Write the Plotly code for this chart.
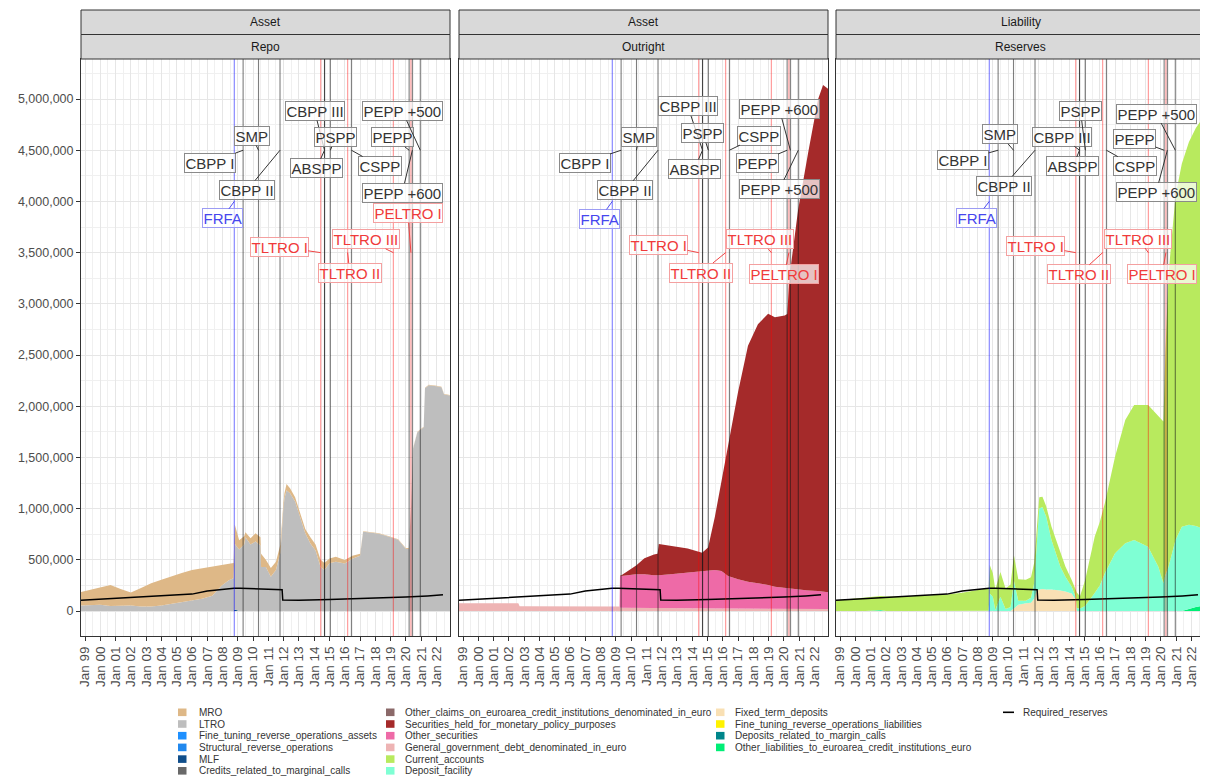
import plotly.graph_objects as go
from plotly.subplots import make_subplots
from datetime import datetime

FONT = "Liberation Sans, Arial, Helvetica, sans-serif"

# ------------------------------------------------------------------ data (EUR millions)
# Repo panel
repo_dates = ["1998-09-27", "1999-06-01", "2000-01-01", "2000-09-01", "2001-05-01", "2002-01-01",
              "2002-09-01", "2003-05-01", "2004-01-01", "2004-09-01", "2005-05-01", "2006-01-01",
              "2006-09-01", "2007-05-01", "2007-12-15", "2008-06-01", "2008-09-20", "2008-10-20",
              "2009-02-01", "2009-06-01", "2009-07-01", "2009-11-01", "2010-03-01", "2010-06-25",
              "2010-07-10", "2010-11-01", "2011-03-01", "2011-07-01", "2011-10-15", "2011-12-25",
              "2012-01-20", "2012-03-10", "2012-06-01", "2012-10-01", "2013-02-01", "2013-06-01",
              "2013-10-01", "2014-02-01", "2014-06-01", "2014-09-01", "2015-01-01", "2015-06-01",
              "2016-01-01", "2016-07-01", "2017-01-01", "2017-03-15", "2017-07-01", "2018-04-01",
              "2019-01-01", "2019-07-01", "2020-01-01", "2020-03-10", "2020-05-01", "2020-06-20",
              "2020-10-01", "2021-01-01", "2021-03-01", "2021-04-01", "2021-07-01", "2022-01-01",
              "2022-05-01", "2022-07-01", "2022-11-20"]
MRO = [130000, 150000, 165000, 205000, 160000, 125000, 180000, 225000, 250000, 270000, 282000, 300000,
       298000, 283000, 200000, 165000, 150000, 190000, 90000, 80000, 50000, 60000, 80000, 80000,
       130000, 70000, 85000, 80000, 80000, 50000, 50000, 60000, 50000, 40000, 50000, 40000,
       60000, 60000, 70000, 70000, 48000, 48000, 33000, 30000, 20000, 5000, 5000, 5000,
       5000, 5000, 7000, 10000, 5000, 5000, 5000, 5000, 5000, 5000, 5000, 5000,
       5000, 5000, 5000]
LTRO = [55000, 60000, 60000, 50000, 55000, 55000, 45000, 45000, 55000, 70000, 90000, 100000,
        120000, 150000, 250000, 300000, 320000, 640000, 600000, 650000, 720000, 650000, 680000, 640000,
        430000, 430000, 335000, 400000, 570000, 1000000, 1100000, 1180000, 1150000, 1070000, 900000, 760000,
        660000, 590000, 430000, 400000, 466000, 482000, 465000, 510000, 540000, 775000, 770000, 755000,
        720000, 695000, 605000, 605000, 995000, 1585000, 1745000, 1780000, 1795000, 2175000, 2205000, 2195000,
        2185000, 2115000, 2105000]
mlf_dates = ["2008-09-20", "2008-10-20", "2009-02-01"]
MLF = [0, 15000, 0]
edge_dates = ["1998-09-27", "2022-11-20"]
Fine_tuning_reverse_operations_assets = [0, 0]
Structural_reverse_operations = [0, 0]
Credits_related_to_marginal_calls = [0, 0]

# Outright panel
out_dates = ["1998-09-27", "2002-08-15", "2002-09-15", "2009-03-31", "2009-04-10", "2009-05-15",
             "2010-05-01", "2010-11-15", "2011-07-01", "2011-09-25", "2011-10-25", "2012-08-01",
             "2013-09-15", "2014-08-25", "2015-01-15", "2015-06-25", "2015-12-01", "2016-05-05",
             "2016-12-31", "2017-08-25", "2018-04-20", "2018-12-20", "2019-05-30", "2020-01-20",
             "2020-03-20", "2020-05-20", "2020-12-05", "2021-08-01", "2022-03-28", "2022-07-25",
             "2022-11-20"]
General_government_debt = [75000, 75000, 47000, 45000, 32000, 32000, 30000, 30000, 30000, 30000, 30000,
                           28000, 27000, 25000, 25000, 25000, 25000, 24000, 23000, 22000, 22000, 21000,
                           21000, 20000, 20000, 20000, 20000, 20000, 20000, 20000, 20000]
Other_securities = [0, 0, 0, 0, 310000, 310000, 328000, 328000, 320000, 320000, 320000, 330000,
                    349000, 365000, 375000, 375000, 365000, 318000, 287000, 263000, 249000, 234000,
                    215000, 205000, 200000, 199000, 195000, 181000, 175000, 168000, 164000]
Securities_held = [0, 0, 0, 0, 3000, 8000, 87000, 158000, 201000, 210000, 305000, 280000,
                   234000, 180000, 220000, 518000, 876000, 1272000, 1829000, 2306000, 2529000, 2649000,
                   2634000, 2662000, 2680000, 3069000, 3701000, 4273000, 4802000, 4949000, 4916000]
Other_claims = [0, 0]

# Reserves panel
res_dates = ["1998-09-27", "2000-01-01", "2000-09-01", "2001-09-01", "2002-01-01", "2003-01-01",
             "2004-01-01", "2005-01-01", "2006-01-01", "2007-01-01", "2008-01-01", "2008-06-01",
             "2008-09-20", "2008-10-20", "2009-01-01", "2009-03-01", "2009-07-01", "2009-11-01",
             "2010-03-01", "2010-05-20", "2010-09-01", "2011-03-01", "2011-07-01", "2011-09-15",
             "2011-11-15", "2012-01-15", "2012-04-01", "2012-07-01", "2012-11-01", "2013-06-01",
             "2013-10-01", "2014-03-01", "2014-06-01", "2014-07-01", "2014-09-15", "2015-01-15",
             "2015-09-01", "2016-01-01", "2016-05-01", "2016-12-31", "2017-09-01", "2018-04-01",
             "2019-03-01", "2019-11-01", "2020-03-01", "2020-04-15", "2020-07-01", "2020-12-15",
             "2021-05-15", "2021-11-01", "2022-04-15", "2022-09-15", "2022-11-20"]
Current_accounts = [105000, 118000, 130000, 137000, 140000, 138000, 142000, 152000, 160000, 178000,
                    205000, 215000, 220000, 280000, 230000, 200000, 240000, 200000, 220000, 250000,
                    210000, 205000, 200000, 200000, 180000, 110000, 100000, 100000, 130000, 130000,
                    100000, 66000, 70000, 150000, 120000, 250000, 550000, 620000, 684000, 944000,
                    1204000, 1319000, 1384000, 1465000, 1580000, 2150000, 2857000, 3363000, 3546000,
                    3737000, 3887000, 3997000, 4040000]
Deposit_facility = [1000, 1000, 1000, 1000, 1000, 1000, 1000, 1000, 1000, 1000, 1000, 1000,
                    3000, 170000, 140000, 10000, 140000, 20000, 40000, 270000, 40000, 25000,
                    50000, 150000, 420000, 790000, 800000, 710000, 485000, 235000, 145000, 67000,
                    30000, 30000, 25000, 50000, 176000, 250000, 368000, 563000, 661000, 693000,
                    628000, 433000, 270000, 350000, 433000, 693000, 823000, 823000, 791000, 759000,
                    760000]
Fixed_term_deposits = [0, 0, 0, 0, 0, 0, 0, 0, 0, 0, 0, 0, 0, 0, 0, 0, 0, 0, 0,
                       25000, 60000, 75000, 80000, 120000, 200000, 210000, 215000, 210000, 210000,
                       200000, 190000, 170000, 110000,
                       0, 0, 0, 0, 0, 0, 0, 0, 0, 0, 0, 0, 0, 0, 0, 0, 0, 0, 0, 0]
Other_liabilities = [0, 0, 0, 8000, 0, 0, 0, 0, 0, 0, 0, 0, 0, 0, 0, 0, 0, 0, 0, 0, 0, 0, 0,
                     0, 0, 0, 0, 0, 0, 0, 0, 0, 0, 0, 0, 0, 0, 0, 0, 0, 0, 0, 0, 0, 0, 0, 0, 0, 0,
                     20000, 40000, 50000, 50000]
Fine_tuning_reverse_operations_liabilities = [0, 0]
Deposits_related_to_margin_calls = [0, 0]

# Required reserves (drawn in every panel)
rr_dates = ["1998-09-27", "2001-01-01", "2003-01-01", "2005-01-01", "2006-01-01", "2007-01-01",
            "2008-01-01", "2008-10-01", "2009-03-01", "2010-06-01", "2011-06-01", "2011-11-25",
            "2011-12-10", "2013-01-01", "2015-01-01", "2017-01-01", "2018-06-01", "2020-01-01",
            "2021-06-01", "2022-06-05"]
Required_reserves = [105000, 124000, 138000, 153000, 165000, 195000, 213000, 222000, 222000, 215000,
                     210000, 207000, 107000, 105000, 112000, 120000, 130000, 136000, 147000, 158000]

# Policy events
event_names = ["FRFA", "CBPP I", "SMP", "CBPP II", "TLTRO I", "CBPP III", "ABSPP", "PSPP",
               "TLTRO II", "CSPP", "TLTRO III", "PEPP", "PELTRO I", "PEPP +600", "PEPP +500"]
event_dates = ["2008-10-08", "2009-05-07", "2010-05-10", "2011-10-06", "2014-06-05", "2014-09-04",
               "2014-09-04", "2015-01-22", "2016-03-10", "2016-06-08", "2019-03-07", "2020-03-18",
               "2020-04-30", "2020-06-04", "2020-12-10"]
event_kinds = ["blue", "black", "black", "black", "red", "black", "black", "black",
               "red", "black", "red", "black", "red", "black", "black"]

panel_strips = [("Asset", "Repo"), ("Asset", "Outright"), ("Liability", "Reserves")]

# ------------------------------------------------------------------ label placement (layout)
POINT_Y = {"black": 4500000, "red": 3500000, "blue": 4000000}
placements = [
    {"FRFA": (2007.97, 3835000), "CBPP I": (2007.17, 4378000), "SMP": (2009.90, 4639000),
     "CBPP II": (2009.61, 4111000), "TLTRO I": (2011.70, 3558000), "CBPP III": (2014.03, 4883000),
     "ABSPP": (2014.14, 4323000), "PSPP": (2015.40, 4626000), "TLTRO II": (2016.32, 3304000),
     "CSPP": (2018.28, 4346000), "TLTRO III": (2017.41, 3630000), "PEPP": (2019.15, 4626000),
     "PELTRO I": (2020.13, 3884000), "PEPP +600": (2019.76, 4085000), "PEPP +500": (2019.76, 4883000)},
    {"FRFA": (2007.94, 3829000), "CBPP I": (2006.96, 4380000), "SMP": (2010.51, 4631000),
     "CBPP II": (2009.62, 4108000), "TLTRO I": (2011.80, 3578000), "CBPP III": (2013.71, 4928000),
     "ABSPP": (2014.14, 4318000), "PSPP": (2014.69, 4666000), "TLTRO II": (2014.59, 3306000),
     "CSPP": (2018.40, 4642000), "TLTRO III": (2018.46, 3630000), "PEPP": (2018.25, 4376000),
     "PELTRO I": (2020.03, 3288000), "PEPP +600": (2019.70, 4903000), "PEPP +500": (2019.70, 4118000)},
    {"FRFA": (2007.94, 3839000), "CBPP I": (2007.05, 4404000), "SMP": (2009.47, 4655000),
     "CBPP II": (2009.73, 4153000), "TLTRO I": (2011.80, 3568000), "CBPP III": (2013.51, 4631000),
     "ABSPP": (2014.24, 4342000), "PSPP": (2014.74, 4882000), "TLTRO II": (2014.63, 3288000),
     "CSPP": (2018.29, 4345000), "TLTRO III": (2018.51, 3637000), "PEPP": (2018.27, 4607000),
     "PELTRO I": (2020.07, 3288000), "PEPP +600": (2019.69, 4091000), "PEPP +500": (2019.69, 4858000)},
]

STYLE = {
    "black": dict(line="rgba(20,20,20,0.55)", text="#333333", border="#8A8A8A", seg="#333333"),
    "red": dict(line="rgba(255,0,0,0.42)", text="#F03A3A", border="#F4A0A0", seg="#F04444"),
    "blue": dict(line="rgba(0,0,255,0.5)", text="#4646EE", border="#9C9CF4", seg="#4E4EF0"),
}

COLORS = {
    "MRO": "#DEB887", "LTRO": "#BEBEBE", "Fine_tuning_reverse_operations_assets": "#1E90FF",
    "Structural_reverse_operations": "#2188EE", "MLF": "#104E8B",
    "Credits_related_to_marginal_calls": "#696969",
    "Other_claims_on_euroarea_credit_institutions_denominated_in_euro": "#8B6969",
    "Securities_held_for_monetary_policy_purposes": "#A52A2A", "Other_securities": "#EE6AA7",
    "General_government_debt_denominated_in_euro": "#EEB4B4", "Current_accounts": "#B8EA5E",
    "Deposit_facility": "#7FFFD4", "Fixed_term_deposits": "#F9E0B4",
    "Fine_tuning_reverse_operations_liabilities": "#FFF200",
    "Deposits_related_to_margin_calls": "#00868B",
    "Other_liabilities_to_euroarea_credit_institutions_euro": "#00EE76",
}

# ------------------------------------------------------------------ geometry
# The page body has an 8px margin, so the figure is drawn 8px smaller and
# all reference pixel positions are expressed relative to the window.
OFF = 8
W, H = 1208 - OFF, 780 - OFF
ML, MT = 81 - OFF, 59 - OFF
MB = H - (636 - OFF)
MR = W - (1205 - OFF)
PW, PH = W - ML - MR, H - MT - MB


def px_x(X):
    return (X - OFF - ML) / PW


def px_y(Y):
    return (H - MB - (Y - OFF)) / PH


def yr2date(v):
    y = int(v)
    a, b = datetime(y, 1, 1), datetime(y + 1, 1, 1)
    return (a + (b - a) * (v - y)).strftime("%Y-%m-%d")


panel_px = [(81, 450), (459, 828), (836, 1205)]
domains = [[px_x(a), px_x(b)] for a, b in panel_px]

fig = make_subplots(rows=1, cols=3, shared_yaxes=True, horizontal_spacing=0.01)


def area(x, y, name, col, group):
    c = COLORS[name]
    fig.add_trace(go.Scatter(x=x, y=y, name=name, mode="lines", line=dict(width=0, color=c),
                             fillcolor=c, stackgroup=group, showlegend=False), row=1, col=col)


# Repo (bottom -> top)
area(edge_dates, Credits_related_to_marginal_calls, "Credits_related_to_marginal_calls", 1, "repo")
area(mlf_dates, MLF, "MLF", 1, "repo")
area(edge_dates, Structural_reverse_operations, "Structural_reverse_operations", 1, "repo")
area(edge_dates, Fine_tuning_reverse_operations_assets, "Fine_tuning_reverse_operations_assets", 1, "repo")
area(repo_dates, LTRO, "LTRO", 1, "repo")
area(repo_dates, MRO, "MRO", 1, "repo")
# Outright
area(out_dates, General_government_debt, "General_government_debt_denominated_in_euro", 2, "out")
area(out_dates, Other_securities, "Other_securities", 2, "out")
area(out_dates, Securities_held, "Securities_held_for_monetary_policy_purposes", 2, "out")
area(edge_dates, Other_claims, "Other_claims_on_euroarea_credit_institutions_denominated_in_euro", 2, "out")
# Reserves
area(res_dates, Other_liabilities, "Other_liabilities_to_euroarea_credit_institutions_euro", 3, "res")
area(edge_dates, Deposits_related_to_margin_calls, "Deposits_related_to_margin_calls", 3, "res")
area(edge_dates, Fine_tuning_reverse_operations_liabilities, "Fine_tuning_reverse_operations_liabilities", 3, "res")
area(res_dates, Fixed_term_deposits, "Fixed_term_deposits", 3, "res")
area(res_dates, Deposit_facility, "Deposit_facility", 3, "res")
area(res_dates, Current_accounts, "Current_accounts", 3, "res")

for col in (1, 2, 3):
    fig.add_trace(go.Scatter(x=rr_dates, y=Required_reserves, name="Required_reserves", mode="lines",
                             line=dict(color="black", width=1.5), showlegend=False), row=1, col=col)

# ------------------------------------------------------------------ axes
xcommon = dict(type="date", range=["1998-09-27", "2022-11-20"], tick0="1999-01-01", dtick="M12",
               tickformat="%b %y", tickangle=-90, ticks="outside", ticklen=4, tickcolor="#333333",
               tickfont=dict(family=FONT, size=13.5, color="#4D4D4D"),
               showgrid=True, gridcolor="#E6E6E6", gridwidth=1,
               minor=dict(tick0="1999-07-01", dtick="M12", showgrid=True, gridcolor="#F0F0F0", gridwidth=0.7),
               showline=True, mirror=True, linecolor="#333333", linewidth=1, zeroline=False)
ycommon = dict(range=[-244000, 5391000], tick0=0, dtick=500000, tickformat=",",
               tickfont=dict(family=FONT, size=12.5, color="#4D4D4D"),
               showgrid=True, gridcolor="#E6E6E6", gridwidth=1,
               minor=dict(tick0=0, dtick=250000, showgrid=True, gridcolor="#F0F0F0", gridwidth=0.7),
               showline=True, mirror=True, linecolor="#333333", linewidth=1, zeroline=False)

for i in range(3):
    sfx = "" if i == 0 else str(i + 1)
    fig.layout["xaxis" + sfx].update(domain=domains[i], **xcommon)
    fig.layout["yaxis" + sfx].update(**ycommon)
    if i == 0:
        fig.layout["yaxis"].update(ticks="outside", ticklen=4, tickcolor="#333333")
    else:
        fig.layout["yaxis" + sfx].update(ticks="", showticklabels=False)

# ------------------------------------------------------------------ event lines and labels
for i in range(3):
    xr = "x" if i == 0 else f"x{i + 1}"
    yr_ = "y" if i == 0 else f"y{i + 1}"
    for name, date, kind in zip(event_names, event_dates, event_kinds):
        st = STYLE[kind]
        fig.add_shape(type="line", xref=xr, yref="paper", x0=date, x1=date, y0=0, y1=1,
                      line=dict(color=st["line"], width=1.1), layer="above")
    for name, date, kind in zip(event_names, event_dates, event_kinds):
        st = STYLE[kind]
        lx, ly = placements[i][name]
        fig.add_annotation(x=date, y=POINT_Y[kind], xref=xr, yref=yr_,
                           ax=yr2date(lx), ay=ly, axref=xr, ayref=yr_,
                           text=name, showarrow=True, arrowhead=0, arrowwidth=1,
                           arrowcolor=st["seg"], standoff=0, startstandoff=0,
                           font=dict(family=FONT, size=15, color=st["text"]),
                           bgcolor="rgba(255,255,255,0.72)", bordercolor=st["border"],
                           borderwidth=1, borderpad=0.5)

# ------------------------------------------------------------------ facet strips
for (d0, d1), (t1, t2) in zip(domains, panel_strips):
    for (ya, yb, txt) in ((10, 34.5, t1), (34.5, 59, t2)):
        fig.add_shape(type="rect", xref="paper", yref="paper", x0=d0, x1=d1,
                      y0=px_y(yb), y1=px_y(ya), fillcolor="#D9D9D9",
                      line=dict(color="#333333", width=1), layer="above")
        fig.add_annotation(x=(d0 + d1) / 2, y=px_y((ya + yb) / 2), xref="paper", yref="paper",
                           text=txt, showarrow=False, xanchor="center", yanchor="middle",
                           font=dict(family=FONT, size=12, color="#1A1A1A"))

# ------------------------------------------------------------------ legend (drawn manually, compact ggplot layout)
legend_cols = [
    (178, 197, ["MRO", "LTRO", "Fine_tuning_reverse_operations_assets", "Structural_reverse_operations",
                "MLF", "Credits_related_to_marginal_calls"]),
    (386, 403, ["Other_claims_on_euroarea_credit_institutions_denominated_in_euro",
                "Securities_held_for_monetary_policy_purposes", "Other_securities",
                "General_government_debt_denominated_in_euro", "Current_accounts", "Deposit_facility"]),
    (716, 733, ["Fixed_term_deposits", "Fine_tuning_reverse_operations_liabilities",
                "Deposits_related_to_margin_calls",
                "Other_liabilities_to_euroarea_credit_institutions_euro"]),
]
row0, drow = 712.3, 11.7
for sq, tx, names in legend_cols:
    for r, nm in enumerate(names):
        Y = row0 + drow * r
        fig.add_shape(type="rect", xref="paper", yref="paper", x0=px_x(sq), x1=px_x(sq + 8.5),
                      y0=px_y(Y + 3.8), y1=px_y(Y - 3.8), fillcolor=COLORS[nm], line=dict(width=0))
        fig.add_annotation(x=px_x(tx), y=px_y(Y), xref="paper", yref="paper", text=nm,
                           showarrow=False, xanchor="left", yanchor="middle",
                           font=dict(family=FONT, size=10, color="#333333"))
fig.add_shape(type="line", xref="paper", yref="paper", x0=px_x(1003), x1=px_x(1014),
              y0=px_y(row0), y1=px_y(row0), line=dict(color="black", width=1.6))
fig.add_annotation(x=px_x(1021), y=px_y(row0), xref="paper", yref="paper", text="Required_reserves",
                   showarrow=False, xanchor="left", yanchor="middle",
                   font=dict(family=FONT, size=10, color="#333333"))

fig.update_layout(width=W, height=H, autosize=False,
                  margin=dict(l=ML, r=MR, t=MT, b=MB, pad=0),
                  paper_bgcolor="white", plot_bgcolor="white", showlegend=False,
                  font=dict(family=FONT, color="#333333"))

fig.write_html("out.html")
